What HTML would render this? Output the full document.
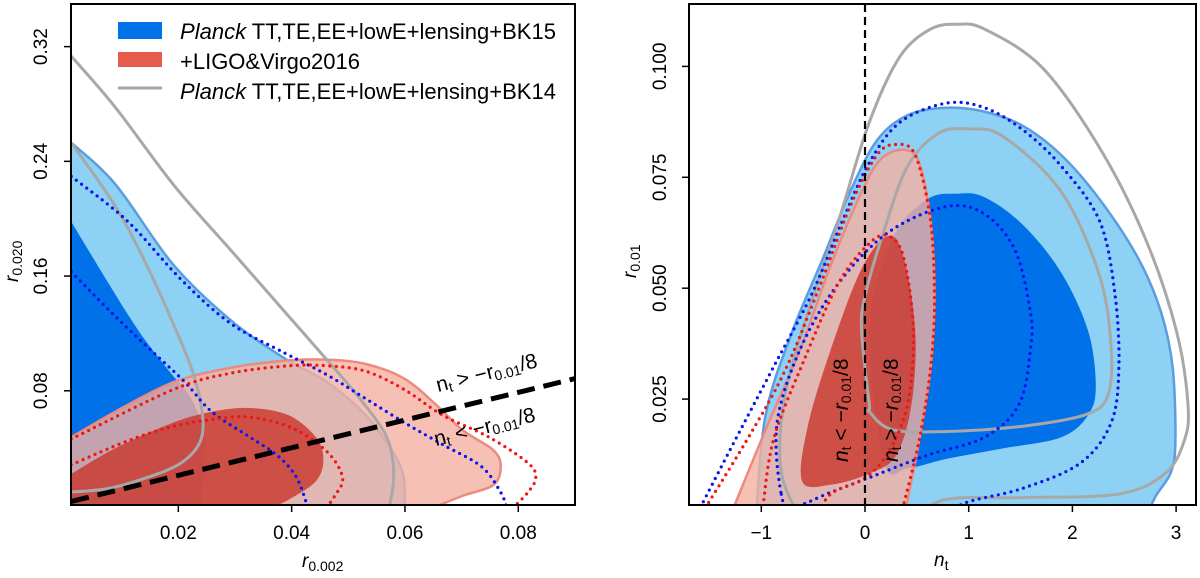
<!DOCTYPE html>
<html><head><meta charset="utf-8"><style>
body{margin:0;background:#fff;width:1200px;height:573px;overflow:hidden}
svg text{font-family:"Liberation Sans","DejaVu Sans",sans-serif;fill:#000}
</style></head><body>
<svg id="c" width="1200" height="573" xmlns="http://www.w3.org/2000/svg">
<defs>
<clipPath id="clipL"><rect x="71" y="4" width="504" height="501"/></clipPath>
<clipPath id="clipR"><rect x="689" y="4" width="507" height="501"/></clipPath>
</defs>
<g id="L" clip-path="url(#clipL)"></g>
<g id="R" clip-path="url(#clipR)"></g>
<g id="axes"></g>
</svg>
<script>
// ---- Left panel data (r_0.002, r_0.020) ----
const L_blueOuter=[[0.0011,0.253],[0.0089,0.224],[0.0191,0.168],[0.0293,0.129],[0.0388,0.1025],[0.0463,0.0859],[0.0531,0.0629],[0.0579,0.0373],[0.0598,0.0194],[0.0599,-0.002]];
const L_blueInner=[[0.0011,0.198],[0.0069,0.160],[0.013,0.1217],[0.0184,0.0936],[0.0225,0.073],[0.0246,0.045],[0.0239,-0.002]];
const L_redOuter=[[0.0011,0.0475],[0.0089,0.0654],[0.0191,0.0859],[0.0293,0.0961],[0.0395,0.1012],[0.0463,0.1017],[0.0531,0.0987],[0.0599,0.0884],[0.0654,0.0706],[0.0701,0.0527],[0.0756,0.0386],[0.0769,0.0271],[0.0756,0.0143],[0.0701,0.0066],[0.0647,-0.002]];
const L_redInner=[[0.0011,0.022],[0.0089,0.0399],[0.0191,0.0578],[0.0259,0.0654],[0.0327,0.068],[0.0395,0.0629],[0.0443,0.0475],[0.0456,0.0322],[0.0443,0.0169],[0.0395,0.0041],[0.0361,-0.002]];
const L_blueDotOuter=[[0.0011,0.2295],[0.011,0.1984],[0.0205,0.1575],[0.0293,0.1268],[0.0388,0.1063],[0.0463,0.091],[0.0531,0.0744],[0.0599,0.0578],[0.0667,0.0424],[0.0735,0.0271],[0.0769,0.0092],[0.078,-0.002]];
const L_blueDotInner=[[0.0011,0.163],[0.0089,0.1319],[0.0157,0.1063],[0.0212,0.0859],[0.0259,0.0654],[0.0327,0.0475],[0.0375,0.0348],[0.0409,0.0194],[0.0429,-0.002]];
const L_redDotOuter=[[0.0011,0.0463],[0.0191,0.0808],[0.0293,0.0923],[0.0395,0.0974],[0.0463,0.0974],[0.0531,0.0936],[0.0599,0.0808],[0.0667,0.0629],[0.0749,0.0475],[0.0817,0.0297],[0.0831,0.0194],[0.0817,0.0092],[0.079,-0.002]];
const L_redDotInner=[[0.0011,0.0284],[0.011,0.045],[0.0191,0.0552],[0.0266,0.0603],[0.0327,0.0616],[0.0402,0.0539],[0.0463,0.0373],[0.049,0.0194],[0.0476,0.0066],[0.046,-0.002]];
const L_grayOuter=[[0.0011,0.3134],[0.0089,0.2776],[0.0191,0.2239],[0.0293,0.1779],[0.0395,0.1319],[0.0463,0.1012],[0.0518,0.0757],[0.0565,0.0501],[0.0579,0.0297],[0.0579,0.0143],[0.0572,-0.002]];
const L_grayInner=[[0.0011,0.253],[0.0089,0.2086],[0.0144,0.1677],[0.0191,0.1268],[0.0225,0.0936],[0.0242,0.0654],[0.0239,0.045],[0.0205,0.0297],[0.0144,0.0194],[0.0075,0.0118],[0.0005,0.0092]];
const L_dash=[[0.0011,0.0028],[0.0905,0.089]];
const L_xticks=[0.02,0.04,0.06,0.08];
const L_yticks=[0.08,0.16,0.24,0.32];
// ---- Right panel data (n_t, r_0.01) ----
const R_blueOuter=[[-1.052,-0.002],[-0.959,0.0214],[-0.7,0.0403],[-0.404,0.0568],[-0.144,0.0717],[0.115,0.0833],[0.411,0.089],[0.781,0.0907],[1.152,0.0898],[1.522,0.0866],[1.893,0.08],[2.263,0.07],[2.633,0.0568],[2.856,0.0445],[2.967,0.0321],[2.993,0.0156],[2.95,0.0085],[2.8,0.003],[2.707,-0.002]];
const R_blueInner=[[0.263,0.061],[0.596,0.07],[0.893,0.0713],[1.152,0.0705],[1.522,0.0643],[1.893,0.0535],[2.152,0.0403],[2.226,0.028],[2.152,0.0214],[1.893,0.0164],[1.337,0.0139],[0.781,0.0115],[0.411,0.0094],[0.189,0.0106],[0.04,0.0403]];
const R_redOuter=[[-1.311,-0.002],[-0.959,0.0181],[-0.626,0.0362],[-0.33,0.0552],[-0.033,0.0717],[0.152,0.0791],[0.374,0.0812],[0.522,0.0783],[0.633,0.0651],[0.67,0.0486],[0.633,0.0321],[0.522,0.0156],[0.374,-0.002]];
const R_redInner=[[-0.607,0.0065],[-0.552,0.0189],[-0.33,0.0362],[-0.033,0.0544],[0.226,0.0618],[0.374,0.0568],[0.485,0.0403],[0.448,0.0238],[0.3,0.0123],[0.041,0.0082],[-0.33,0.0057]];
const R_blueDotOuter=[[-1.644,-0.002],[-1.256,0.0156],[-0.885,0.0321],[-0.515,0.0486],[-0.219,0.0651],[0.041,0.0783],[0.337,0.0874],[0.781,0.0917],[1.152,0.0907],[1.522,0.0857],[1.893,0.0775],[2.263,0.0651],[2.411,0.0486],[2.448,0.0321],[2.374,0.0197],[2.078,0.0106],[1.522,0.0049],[0.967,0.0016],[0.744,-0.002]];
const R_blueDotInner=[[-0.811,0.004],[-0.848,0.0197],[-0.626,0.0362],[-0.256,0.0511],[0.226,0.0626],[0.781,0.0684],[1.152,0.0667],[1.448,0.0585],[1.596,0.0445],[1.596,0.0362],[1.485,0.0238],[1.152,0.0164],[0.596,0.0123],[0.041,0.0073],[-0.33,0.004],[-0.7,0.0007]];
const R_redDotOuter=[[-1.607,-0.002],[-1.144,0.0156],[-0.774,0.0313],[-0.441,0.0502],[-0.144,0.0684],[0.115,0.08],[0.3,0.0824],[0.485,0.08],[0.633,0.0651],[0.67,0.0469],[0.633,0.0321],[0.522,0.0156],[0.337,-0.002]];
const R_redDotInner=[[-0.996,-0.002],[-0.885,0.0156],[-0.589,0.0337],[-0.256,0.0511],[0.041,0.0601],[0.226,0.0618],[0.374,0.0568],[0.467,0.0403],[0.411,0.0238],[0.226,0.0131],[0.004,0.0073],[-0.33,0.0036],[-0.478,-0.002]];
const R_grayOuter=[[-0.626,-0.002],[-0.811,0.009],[-0.774,0.0255],[-0.552,0.0445],[-0.256,0.0651],[0.041,0.0874],[0.337,0.1022],[0.633,0.1084],[0.893,0.1095],[1.152,0.1084],[1.707,0.0998],[2.263,0.0816],[2.707,0.061],[3.004,0.0403],[3.115,0.0238],[3.078,0.0156],[2.893,0.0082],[2.448,0.0036],[1.522,0.0028],[0.781,0.0024],[0.485,-0.002]];
const R_grayInner=[[0.041,0.0238],[-0.033,0.0403],[0.004,0.0486],[0.189,0.0634],[0.411,0.0775],[0.707,0.0849],[1.004,0.0859],[1.337,0.0841],[1.893,0.0717],[2.263,0.0527],[2.374,0.0362],[2.337,0.0255],[2.115,0.0214],[1.522,0.0189],[0.781,0.0177],[0.263,0.0181],[0.041,0.0222]];
const R_xticks=[-1,0,1,2,3];
const R_yticks=[0.025,0.050,0.075,0.100];
const R_yLabels=["0.025","0.050","0.075","0.100"];

const NS="http://www.w3.org/2000/svg";
const Lx=v=>65+v*5666, Ly=v=>505.5-v*1434;
const Rx=v=>865+v*103.7, Ry=v=>510-v*4436;
function smooth(pts,closed){
  const p=pts; const n=p.length; let d="M"+p[0][0].toFixed(1)+","+p[0][1].toFixed(1);
  const get=i=>closed?p[(i+n)%n]:p[Math.max(0,Math.min(n-1,i))];
  const last=closed?n:n-1;
  for(let i=0;i<last;i++){
    const p0=get(i-1),p1=get(i),p2=get(i+1),p3=get(i+2);
    const c1=[p1[0]+(p2[0]-p0[0])/6,p1[1]+(p2[1]-p0[1])/6];
    const c2=[p2[0]-(p3[0]-p1[0])/6,p2[1]-(p3[1]-p1[1])/6];
    d+="C"+c1.map(v=>v.toFixed(1))+" "+c2.map(v=>v.toFixed(1))+" "+p2[0].toFixed(1)+","+p2[1].toFixed(1);
  }
  return closed?d+"Z":d;
}
function mk(tag,attrs,parent){const e=document.createElementNS(NS,tag);for(const k in attrs)e.setAttribute(k,attrs[k]);parent.appendChild(e);return e;}
// mode: 'closed' = smooth closed loop; 'open' = open curve; 'fillOpen' = open curve closed with straight lines via anchors
function draw(g,data,fx,fy,mode,style,name,anchors){
  const pts=data.map(d=>[fx(d[0]),fy(d[1])]);
  let d=smooth(pts,mode==='closed');
  if(mode==='fillOpen'){ (anchors||[]).forEach(a=>{d+="L"+a[0].toFixed(1)+","+a[1].toFixed(1);}); d+="Z"; }
  const e=mk('path',Object.assign({d:d},style),g);
  
  
  return e;
}
const gL=document.getElementById('L'), gR=document.getElementById('R');
const sBlueL={fill:'#8dd2f4',stroke:'#5b9de0','stroke-width':2.5};
const sBlueD={fill:'#0071e8',stroke:'none'};
const sRedL={fill:'#f5b0a2','fill-opacity':0.8,stroke:'#ec8a7e','stroke-width':2.5};
const sRedD={fill:'#c9342a','fill-opacity':0.8,stroke:'none'};
const sGray={fill:'none',stroke:'#a8a8a8','stroke-width':3};
const sDotB={fill:'none',stroke:'#0a14f0','stroke-width':3.2,'stroke-dasharray':'0 6.5','stroke-linecap':'round'};
const sDotR={fill:'none',stroke:'#f01414','stroke-width':3.2,'stroke-dasharray':'0 6.5','stroke-linecap':'round'};
// left panel: fills anchored to bottom-left outside corner
function leftAnch(data){return [[Lx(-0.01),Ly(-0.01)],[Lx(-0.01),Ly(data[0][1])]];}
draw(gL,L_blueOuter,Lx,Ly,'fillOpen',sBlueL,'bk15-95-contour',leftAnch(L_blueOuter));
draw(gL,L_blueInner,Lx,Ly,'fillOpen',sBlueD,'bk15-68-contour',leftAnch(L_blueInner));
draw(gL,L_redOuter,Lx,Ly,'fillOpen',sRedL,'ligo-95-contour',leftAnch(L_redOuter));
draw(gL,L_redInner,Lx,Ly,'fillOpen',sRedD,'ligo-68-contour',leftAnch(L_redInner));
draw(gL,L_grayOuter,Lx,Ly,'open',sGray,'bk14-95-contour');
draw(gL,L_grayInner,Lx,Ly,'open',sGray,'bk14-68-contour');
draw(gL,L_blueDotOuter,Lx,Ly,'open',sDotB,'blue-dotted-outer');
draw(gL,L_blueDotInner,Lx,Ly,'open',sDotB,'blue-dotted-inner');
draw(gL,L_redDotOuter,Lx,Ly,'open',sDotR,'red-dotted-outer');
draw(gL,L_redDotInner,Lx,Ly,'open',sDotR,'red-dotted-inner');
// right panel
draw(gR,R_blueOuter,Rx,Ry,'fillOpen',sBlueL,'bk15-95-contour',[]);
draw(gR,R_blueInner,Rx,Ry,'closed',sBlueD,'bk15-68-contour');
draw(gR,R_redOuter,Rx,Ry,'fillOpen',sRedL,'ligo-95-contour',[]);
draw(gR,R_redInner,Rx,Ry,'closed',sRedD,'ligo-68-contour');
draw(gR,R_grayOuter,Rx,Ry,'open',sGray,'bk14-95-contour');
draw(gR,R_grayInner,Rx,Ry,'closed',sGray,'bk14-68-contour');
draw(gR,R_blueDotOuter,Rx,Ry,'open',sDotB,'blue-dotted-outer');
draw(gR,R_blueDotInner,Rx,Ry,'closed',sDotB,'blue-dotted-inner');
draw(gR,R_redDotOuter,Rx,Ry,'open',sDotR,'red-dotted-outer');
draw(gR,R_redDotInner,Rx,Ry,'open',sDotR,'red-dotted-inner');
// dashed lines
const dl=mk('line',{x1:Lx(L_dash[0][0]),y1:Ly(L_dash[0][1]),x2:Lx(L_dash[1][0]),y2:Ly(L_dash[1][1]),stroke:'#000','stroke-width':5,'stroke-dasharray':'18 9'},gL);


const dr=mk('line',{x1:Rx(0),y1:4,x2:Rx(0),y2:505,stroke:'#000','stroke-width':2.2,'stroke-dasharray':'8 5'},gR);


// axes
const ax=document.getElementById('axes');
function frame(x0,x1,name){const r=mk('rect',{x:x0,y:4,width:x1-x0,height:501,fill:'none',stroke:'#000','stroke-width':2},ax);

}
frame(71,575,'left-axes-frame');frame(689,1196,'right-axes-frame');
L_xticks.forEach(v=>{mk('line',{x1:Lx(v),x2:Lx(v),y1:505,y2:512,stroke:'#000','stroke-width':1.5},ax);
 const t=mk('text',{x:Lx(v),y:539,'text-anchor':'middle','font-size':19},ax);t.textContent=v.toFixed(2);
 
 });
L_yticks.forEach(v=>{mk('line',{x1:64,x2:71,y1:Ly(v),y2:Ly(v),stroke:'#000','stroke-width':1.5},ax);
 const t=mk('text',{x:0,y:0,'text-anchor':'middle','font-size':19,transform:`translate(47,${Ly(v)}) rotate(-90)`},ax);t.textContent=v.toFixed(2);
 
 });
R_xticks.forEach(v=>{mk('line',{x1:Rx(v),x2:Rx(v),y1:505,y2:512,stroke:'#000','stroke-width':1.5},ax);
 const t=mk('text',{x:Rx(v),y:539,'text-anchor':'middle','font-size':19},ax);t.textContent=v<0?'\u2212'+(-v):String(v);
 
 });
R_yticks.forEach((v,i)=>{mk('line',{x1:682,x2:689,y1:Ry(v),y2:Ry(v),stroke:'#000','stroke-width':1.5},ax);
 const t=mk('text',{x:0,y:0,'text-anchor':'middle','font-size':19,transform:`translate(666,${Ry(v)}) rotate(-90)`},ax);t.textContent=R_yLabels[i];
 
 });
</script>
<svg width="1200" height="573" style="position:absolute;left:0;top:0">
<g>
<rect x="118" y="22" width="44" height="17" fill="#0071e8"/>
<rect x="118" y="52" width="44" height="15" fill="#e55b4e"/>
<line x1="118" y1="88" x2="162" y2="88" stroke="#a8a8a8" stroke-width="3"/>
<text x="180" y="39" font-size="22" textLength="376"><tspan font-style="italic">Planck</tspan> TT,TE,EE+lowE+lensing+BK15</text>
<text x="180" y="69" font-size="22">+LIGO&amp;Virgo2016</text>
<text x="180" y="99" font-size="22" textLength="376"><tspan font-style="italic">Planck</tspan> TT,TE,EE+lowE+lensing+BK14</text>
</g>
<text x="438" y="392" font-size="21" transform="rotate(-14 438 392)">n<tspan font-size="14" dy="3">t</tspan><tspan dy="-3"> &gt; −r</tspan><tspan font-size="14" dy="3">0.01</tspan><tspan dy="-3">/8</tspan></text>
<text x="436" y="446" font-size="21" transform="rotate(-14 436 446)">n<tspan font-size="14" dy="3">t</tspan><tspan dy="-3"> &lt; −r</tspan><tspan font-size="14" dy="3">0.01</tspan><tspan dy="-3">/8</tspan></text>
<text x="0" y="0" font-size="21" transform="translate(848,462) rotate(-90)"><tspan font-style="italic">n</tspan><tspan font-size="14" dy="3">t</tspan><tspan dy="-3"> &lt; −</tspan><tspan font-style="italic">r</tspan><tspan font-size="14" dy="3">0.01</tspan><tspan dy="-3">/8</tspan></text>
<text x="0" y="0" font-size="21" transform="translate(898,462) rotate(-90)"><tspan font-style="italic">n</tspan><tspan font-size="14" dy="3">t</tspan><tspan dy="-3"> &gt; −</tspan><tspan font-style="italic">r</tspan><tspan font-size="14" dy="3">0.01</tspan><tspan dy="-3">/8</tspan></text>
<text x="302" y="567" font-size="19"><tspan font-style="italic">r</tspan><tspan font-size="14" dy="4">0.002</tspan></text>
<text x="0" y="0" font-size="19" transform="translate(18,282) rotate(-90)"><tspan font-style="italic">r</tspan><tspan font-size="14" dy="4">0.020</tspan></text>
<text x="934" y="566" font-size="19"><tspan font-style="italic">n</tspan><tspan font-size="14" dy="4">t</tspan></text>
<text x="0" y="0" font-size="19" transform="translate(636,278) rotate(-90)"><tspan font-style="italic">r</tspan><tspan font-size="14" dy="4">0.01</tspan></text>
</svg>
</body></html>
